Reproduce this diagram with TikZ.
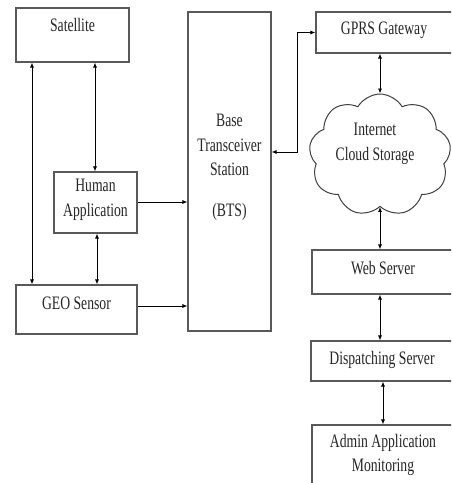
\documentclass[tikz,border=0pt]{standalone}
\usepackage{fontspec}
\setmainfont{Liberation Serif}[FakeStretch=0.72]
\usetikzlibrary{shapes.symbols,arrows.meta}
\begin{document}
\begin{tikzpicture}[x=1pt,y=-1pt,
  box/.style={draw=black!65,line width=1.1pt,rectangle,inner sep=0pt},
  lbl/.style={font=\fontsize{19}{24.5}\selectfont,inner sep=0pt,align=center,text=black!85},
  dar/.style={draw=black,line width=0.8pt,{Latex[length=5pt,width=4pt]}-{Latex[length=5pt,width=4pt]}},
  sar/.style={draw=black,line width=0.8pt,-{Latex[length=5pt,width=4pt]}}]
\useasboundingbox (0,0) rectangle (451,483);
\clip (0,0) rectangle (451,483);
\fill[white] (0,0) rectangle (451,483);
% boxes
\node[box,minimum width=113pt,minimum height=54pt] (sat) at (72.5,35) {};
\node[box,minimum width=83pt,minimum height=61pt] (hum) at (95.5,202.5) {};
\node[box,minimum width=121pt,minimum height=49pt] (geo) at (76.5,309.5) {};
\node[box,minimum width=83pt,minimum height=319pt] (bts) at (229.5,171.5) {};
\node[box,minimum width=139pt,minimum height=41pt] (gprs) at (385.5,32.5) {};
\node[cloud,draw=black!75,line width=1pt,cloud puffs=9,cloud puff arc=120,aspect=1.25,minimum width=142pt,minimum height=122pt] (cloud) at (380,155) {};
\node[box,minimum width=143pt,minimum height=44pt] (web) at (383.5,272) {};
\node[box,minimum width=144pt,minimum height=40pt] (disp) at (383,361) {};
\node[box,minimum width=143pt,minimum height=70pt] (adm) at (383.5,460) {};
% labels
\node[lbl] (satt) at (72.5,25) {Satellite};
\node[lbl] (humt) at (95.5,200) {Human\\Application};
\node[lbl] (geot) at (76.5,303) {GEO Sensor};
\node[lbl] (btst) at (229.5,145) {Base\\Transceiver\\Station};
\node[lbl] (btsb) at (229.5,212) {(BTS)};
\node[lbl] (gprst) at (384,30) {GPRS Gateway};
\node[lbl] (cloudt) at (375,144) {Internet\\Cloud Storage};
\node[lbl] (webt) at (383,268) {Web Server};
\node[lbl] (dispt) at (382,360) {Dispatching Server};
\node[lbl] (admt) at (383,455) {Admin Application\\Monitoring};
% connectors
\coordinate (c1) at (32,0);
\coordinate (c2) at (95,0);
\coordinate (c3) at (97,0);
\draw[dar] (c1 |- sat.south) -- (c1 |- geo.north);
\draw[dar] (c2 |- sat.south) -- (c2 |- hum.north);
\draw[dar] (c3 |- hum.south) -- (c3 |- geo.north);
\coordinate (h1) at (0,202);
\coordinate (h2) at (0,306);
\draw[sar] (h1 -| hum.east) -- (h1 -| bts.west);
\draw[sar] (h2 -| geo.east) -- (h2 -| bts.west);
\coordinate (b1) at (0,152);
\coordinate (k) at (297,0);
\draw[dar] (b1 -| bts.east) -- (k |- b1) -- (k |- gprs.west) -- (gprs.west);
\draw[dar] (cloud.north |- gprs.south) -- (cloud.north);
\draw[dar] (cloud.south) -- (cloud.south |- web.north);
\draw[dar] (cloud.south |- web.south) -- (cloud.south |- disp.north);
\draw[dar] (disp.south) -- (disp.south |- adm.north);
\end{tikzpicture}
\end{document}
